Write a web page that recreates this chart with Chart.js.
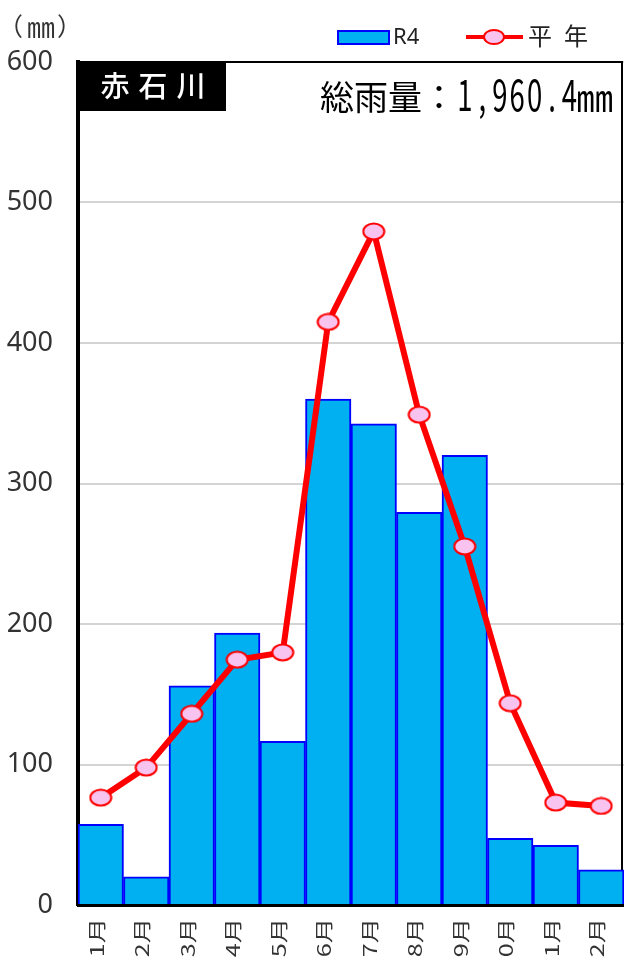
<!DOCTYPE html>
<html>
<head>
<meta charset="utf-8">
<script src="https://cdn.jsdelivr.net/npm/chart.js@4/dist/chart.umd.min.js"></script>
<style>
  html, body { margin: 0; padding: 0; background: #ffffff; overflow: hidden; }
  #wrap { width: 624px; height: 962px; position: relative; }
  canvas { display: block; }
</style>
</head>
<body>
<div id="wrap"><canvas id="rain" width="624" height="962"></canvas></div>
<script>
// Monthly precipitation at 赤石川 (mm)
const stationName = '赤石川';
const unitLabel = '（㎜）';
const months = ['1月', '2月', '3月', '4月', '5月', '6月', '7月', '8月', '9月', '10月', '11月', '12月'];
const seriesNames = ['R4', '平年'];
const rainR4 = [57.5, 20.0, 156.0, 193.5, 116.5, 360.0, 342.5, 279.5, 320.0, 47.4, 42.5, 25.0];
const rainNormal = [76.4, 97.8, 136.1, 174.6, 179.8, 415.0, 479.4, 349.0, 255.2, 143.6, 72.9, 70.5];
const yTicks = [0, 100, 200, 300, 400, 500, 600];

const JP = '"Noto Sans CJK JP", "Noto Sans", sans-serif';
const BAR_FILL = '#00b0f0';
const BAR_EDGE = '#0000ff';
const LINE_RED = '#ff0000';
const MARK_FILL = '#f8c3ee';

// Ellipse marker used for the 平年 points
function makeMarker(w, h, lw) {
  const c = document.createElement('canvas');
  c.width = w; c.height = h;
  const g = c.getContext('2d');
  g.beginPath();
  g.ellipse(w / 2, h / 2, w / 2 - lw / 2 - 0.5, h / 2 - lw / 2 - 0.5, 0, 0, Math.PI * 2);
  g.fillStyle = MARK_FILL;
  g.fill();
  g.lineWidth = lw;
  g.strokeStyle = LINE_RED;
  g.stroke();
  return c;
}

function totalText() {
  const total = rainR4.reduce((a, b) => a + b, 0);
  return '総雨量：' + total.toLocaleString('en-US', { minimumFractionDigits: 1, maximumFractionDigits: 1 }) + '㎜';
}

// Plot frame (top and right edges) behind the data
const framePlugin = {
  id: 'frame',
  beforeDatasetsDraw(chart) {
    const { ctx, chartArea: a } = chart;
    ctx.save();
    ctx.strokeStyle = '#000';
    ctx.lineWidth = 2;
    ctx.beginPath();
    ctx.moveTo(a.left, a.top);
    ctx.lineTo(622, a.top);
    ctx.lineTo(622, a.bottom);
    ctx.stroke();
    ctx.restore();
  }
};

// Month labels, rotated, plus title box, total, unit and legend
const decorPlugin = {
  id: 'decor',
  afterDraw(chart) {
    const { ctx, chartArea: a } = chart;
    const xs = chart.scales.x;

    // month labels (the figure's bottom edge trims the longest ones)
    ctx.save();
    ctx.beginPath();
    ctx.rect(0, a.bottom + 3, chart.width, 50);
    ctx.clip();
    ctx.fillStyle = '#333';
    ctx.font = '18px ' + JP;
    ctx.textAlign = 'right';
    ctx.textBaseline = 'middle';
    xs.ticks.forEach((t, i) => {
      const x = xs.getPixelForTick(i) - 4;
      ctx.save();
      ctx.translate(x, a.bottom + 13);
      ctx.rotate(-Math.PI / 2);
      ctx.scale(1.4, 1);
      ctx.fillText(xs.getLabelForValue(t.value), 0, 0);
      ctx.restore();
    });
    ctx.restore();

    // station title box
    ctx.save();
    ctx.fillStyle = '#000';
    ctx.fillRect(a.left, a.top - 1, 148, 50);
    ctx.fillStyle = '#fff';
    ctx.font = '500 29px ' + JP;
    ctx.textAlign = 'center';
    ctx.textBaseline = 'middle';
    [...stationName].forEach((ch, i) => ctx.fillText(ch, 115 + i * 38, a.top + 24));
    ctx.restore();

    // annual total
    ctx.save();
    ctx.fillStyle = '#000';
    ctx.textAlign = 'center';
    ctx.textBaseline = 'alphabetic';
    let x = 320;
    const base = 111;
    for (const ch of totalText()) {
      const wide = ch.charCodeAt(0) > 0xff;
      if (ch === '㎜') {
        ctx.font = '37px ' + JP;
        ctx.fillText(ch, x + 17, base + 1);
        x += 34;
      } else if (wide) {
        ctx.font = '34px ' + JP;
        ctx.fillText(ch, x + 17, base - 1);
        x += 34;
      } else {
        ctx.save();
        ctx.font = '43px ' + JP;
        ctx.translate(x + 9, base);
        ctx.scale(0.64, 1);
        ctx.fillText(ch, 0, 0);
        ctx.restore();
        x += 17.4;
      }
    }
    ctx.restore();

    // unit
    ctx.save();
    ctx.fillStyle = '#333';
    ctx.textBaseline = 'middle';
    ctx.font = '25px ' + JP;
    const u = [...unitLabel];
    ctx.textAlign = 'right'; ctx.fillText(u[0], 23, 26);
    ctx.textAlign = 'left'; ctx.fillText(u[2], 57, 26);
    ctx.font = '28px ' + JP;
    ctx.textAlign = 'center'; ctx.fillText(u[1], 41, 27);
    ctx.restore();

    // legend
    ctx.save();
    ctx.fillStyle = BAR_FILL;
    ctx.strokeStyle = BAR_EDGE;
    ctx.lineWidth = 2;
    ctx.fillRect(338, 31, 51, 13);
    ctx.strokeRect(338, 31, 51, 13);
    ctx.fillStyle = '#222';
    ctx.font = '22px "Noto Sans", sans-serif';
    ctx.textBaseline = 'middle';
    ctx.textAlign = 'left';
    ctx.fillText(seriesNames[0], 393, 38);

    ctx.strokeStyle = LINE_RED;
    ctx.lineWidth = 4;
    ctx.beginPath();
    ctx.moveTo(466, 37);
    ctx.lineTo(523, 37);
    ctx.stroke();
    ctx.beginPath();
    ctx.ellipse(494, 37, 10, 7, 0, 0, Math.PI * 2);
    ctx.fillStyle = MARK_FILL;
    ctx.fill();
    ctx.lineWidth = 2;
    ctx.stroke();

    ctx.fillStyle = '#222';
    ctx.font = '24px ' + JP;
    ctx.textAlign = 'center';
    [...seriesNames[1]].forEach((ch, i) => ctx.fillText(ch, 540 + i * 36, 36));
    ctx.restore();
  }
};

function draw() {
  const ctx = document.getElementById('rain').getContext('2d');
  new Chart(ctx, {
    data: {
      labels: months,
      datasets: [
        {
          type: 'line',
          label: seriesNames[1],
          data: rainNormal,
          borderColor: LINE_RED,
          borderWidth: 6,
          pointStyle: makeMarker(24, 19, 2),
          pointRadius: 10,
          tension: 0,
          order: 0
        },
        {
          type: 'bar',
          label: seriesNames[0],
          data: rainR4,
          backgroundColor: BAR_FILL,
          borderColor: BAR_EDGE,
          borderWidth: 2,
          barPercentage: 1,
          categoryPercentage: 1,
          order: 1
        }
      ]
    },
    options: {
      responsive: false,
      animation: false,
      devicePixelRatio: 1,
      layout: { autoPadding: false, padding: { top: 62, left: 0, right: 0, bottom: 0 } },
      plugins: { legend: { display: false }, tooltip: { enabled: false } },
      scales: {
        x: {
          offset: true,
          z: 1,
          grid: { display: false, drawTicks: false },
          border: { display: true, color: '#000', width: 3 },
          ticks: { display: false },
          afterFit(s) { s.height = 57; }
        },
        y: {
          min: 0,
          max: 600,
          afterBuildTicks(s) { s.ticks = yTicks.map(v => ({ value: v })); },
          grid: { color: '#d4d4d4', lineWidth: 2, drawTicks: false },
          border: { display: true, color: '#000', width: 4 },
          ticks: { padding: 25, color: '#333', font: { family: '"Noto Sans", sans-serif', size: 27 } },
          afterFit(s) { s.width = 78; }
        }
      }
    },
    plugins: [framePlugin, decorPlugin]
  });
}

document.fonts.load('20px "Noto Sans CJK JP"').then(draw, draw);
</script>
</body>
</html>
